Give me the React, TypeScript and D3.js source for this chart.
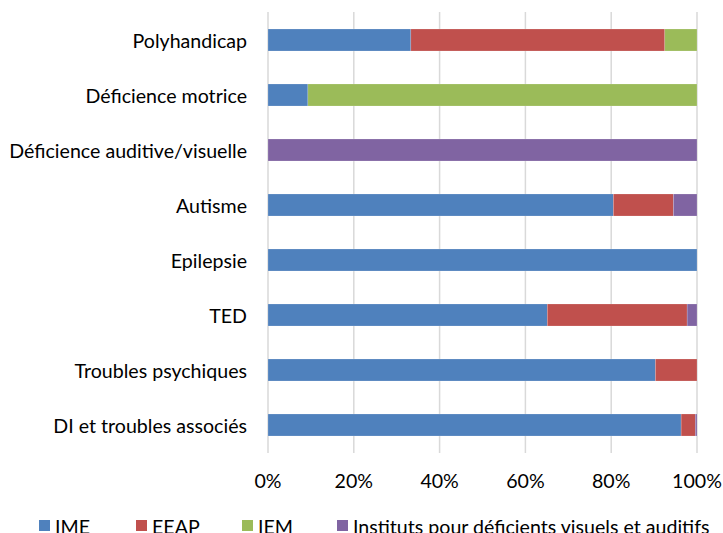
import * as d3 from 'd3';

// categories top to bottom
const categories = [
  'Polyhandicap',
  'Déficience motrice',
  'Déficience auditive/visuelle',
  'Autisme',
  'Epilepsie',
  'TED',
  'Troubles psychiques',
  'DI et troubles associés',
];

// share of each category (%)
const ime = [33.3, 9.3, 0, 80.5, 100, 65.1, 90.3, 96.3];
const eeap = [59.2, 0, 0, 14.0, 0, 32.6, 9.7, 3.3];
const iem = [7.5, 90.7, 0, 0, 0, 0, 0, 0];
const instituts = [0, 0, 100, 5.5, 0, 2.3, 0, 0.4];

const seriesNames = ['IME', 'EEAP', 'IEM', 'Instituts pour déficients visuels et auditifs'];
const seriesKeys = ['ime', 'eeap', 'iem', 'instituts'];
const colors = ['#4F81BD', '#C0504D', '#9BBB59', '#8064A2'];
const xTicks = [0, 20, 40, 60, 80, 100];

const width = 723;
const height = 533;
const marginLeft = 268;
const plotRight = 697;
const plotTop = 12.5;
const plotBottom = 452.5;
const font = 'Lato, "Open Sans", sans-serif';
const fs = 19.6;

export default function App() {
  const rows = categories.map((c, i) => ({
    category: c,
    ime: ime[i],
    eeap: eeap[i],
    iem: iem[i],
    instituts: instituts[i],
  }));

  const stacked = d3.stack<any>().keys(seriesKeys)(rows);

  const x = d3.scaleLinear().domain([0, 100]).range([marginLeft, plotRight]);
  const y = d3
    .scaleBand()
    .domain(categories)
    .range([plotTop, plotBottom])
    .paddingInner(0.6)
    .paddingOuter(0.3);

  const legendX = [39, 136, 242, 337];

  return (
    <svg
      width={width}
      height={height}
      style={{ position: 'absolute', left: 0, top: 0, background: '#fff' }}
    >
      {/* gridlines */}
      {xTicks.map((t) => (
        <line
          key={t}
          x1={x(t)}
          x2={x(t)}
          y1={12}
          y2={453}
          stroke="#d9d9d9"
          strokeWidth={1.5}
        />
      ))}

      {/* bars */}
      {stacked.map((s, si) => (
        <g key={s.key} fill={colors[si]}>
          {s.map((d, i) =>
            d[1] - d[0] > 0 ? (
              <rect
                key={i}
                x={x(d[0])}
                y={y(categories[i])}
                width={x(d[1]) - x(d[0])}
                height={y.bandwidth()}
                stroke="#fff"
                strokeOpacity={0.35}
                strokeWidth={0.5}
              />
            ) : null
          )}
        </g>
      ))}

      {/* category labels */}
      {categories.map((c) => (
        <text
          key={c}
          x={247}
          y={(y(c) ?? 0) + y.bandwidth() / 2}
          textAnchor="end"
          dominantBaseline="central"
          fontFamily={font}
          fontSize={fs}
          fill="#000"
        >
          {c}
        </text>
      ))}

      {/* x tick labels */}
      {xTicks.map((t) => (
        <text
          key={t}
          x={x(t)}
          y={480}
          textAnchor="middle"
          dominantBaseline="central"
          fontFamily={font}
          fontSize={fs}
          fill="#000"
        >
          {t + '%'}
        </text>
      ))}

      {/* legend */}
      {seriesNames.map((n, i) => (
        <g key={n}>
          <rect x={legendX[i]} y={520} width={11} height={11} fill={colors[i]} />
          <text
            x={legendX[i] + 16}
            y={526}
            dominantBaseline="central"
            fontFamily={font}
            fontSize={fs}
            fill="#000"
          >
            {n}
          </text>
        </g>
      ))}
    </svg>
  );
}
